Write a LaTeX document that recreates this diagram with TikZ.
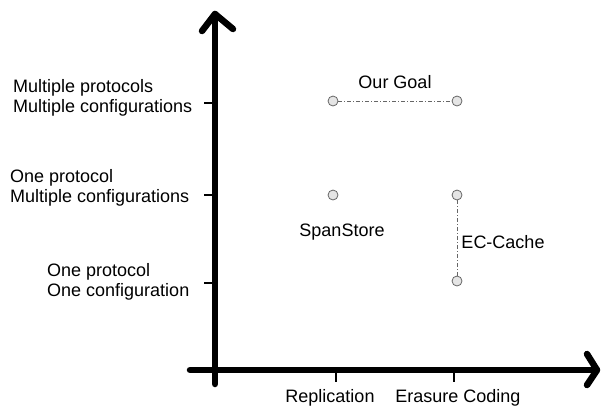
\documentclass[tikz,border=0pt]{standalone}
\usepackage{fontspec}
\setmainfont{Liberation Sans}
\usetikzlibrary{arrows.meta}
\begin{document}
\begin{tikzpicture}[x=1pt,y=-1pt,
  axis/.style={line width=6.5pt, line cap=round},
  tickmark/.style={line width=2.2pt},
  pt/.style={circle, draw=gray!80!black, fill=gray!20, line width=0.8pt, minimum size=10pt, inner sep=0pt},
  link/.style={draw=gray!80!black, line width=0.8pt, dash pattern=on 4pt off 2pt on 1pt off 2pt},
  lbl/.style={font=\fontsize{18}{20}\selectfont, inner sep=0pt},
  barb/.style={line width=6.5pt, line cap=round, line join=round}]
\useasboundingbox (0,0) rectangle (601,410);

% axes
\coordinate (o) at (215,370);
\coordinate (ybot) at (215,384);
\coordinate (ytop) at (215,14);
\coordinate (xleft) at (190,370);
\coordinate (xright) at (597,370);
\draw[axis] (ybot) -- (ytop);
\draw[axis] (xleft) -- (xright);
% arrow heads
\draw[barb] (202,31) -- (ytop) -- (233,29);
\draw[barb] (587,354) -- (xright) -- (587,385);

% ticks on the horizontal axis
\coordinate (tr) at (336,370);
\coordinate (te) at (454,370);
\draw[tickmark] (tr) -- ++(0,12);
\draw[tickmark] (te) -- ++(0,12);

% ticks on the vertical axis
\draw[tickmark] (215,103) -- (204,103);
\draw[tickmark] (215,195) -- (204,195);
\draw[tickmark] (215,283) -- (204,283);

% axis labels
\node[lbl, align=left, anchor=west] (ym) at (13,98) {Multiple protocols\\Multiple configurations};
\node[lbl, align=left, anchor=west] (yo) at (10,188) {One protocol\\Multiple configurations};
\node[lbl, align=left, anchor=west] (yoo) at (47,282) {One protocol\\One configuration};
\node[lbl] (xr) at (330,398) {Replication};
\node[lbl] (xe) at (458,398) {Erasure Coding};

% data points
\node[pt] (g1) at (333,101) {};
\node[pt] (g2) at (457,101) {};
\node[pt] (s) at (333,195) {};
\node[pt] (e1) at (457,195) {};
\node[pt] (e2) at (457,281) {};

\draw[link] (g1) -- (g2);
\draw[link] (e1) -- (e2);

\node[lbl] (goal) at (395,82) {Our Goal};
\node[lbl] (span) at (342,232) {SpanStore};
\node[lbl] (ec) at (503,242) {EC-Cache};
\end{tikzpicture}
\end{document}
